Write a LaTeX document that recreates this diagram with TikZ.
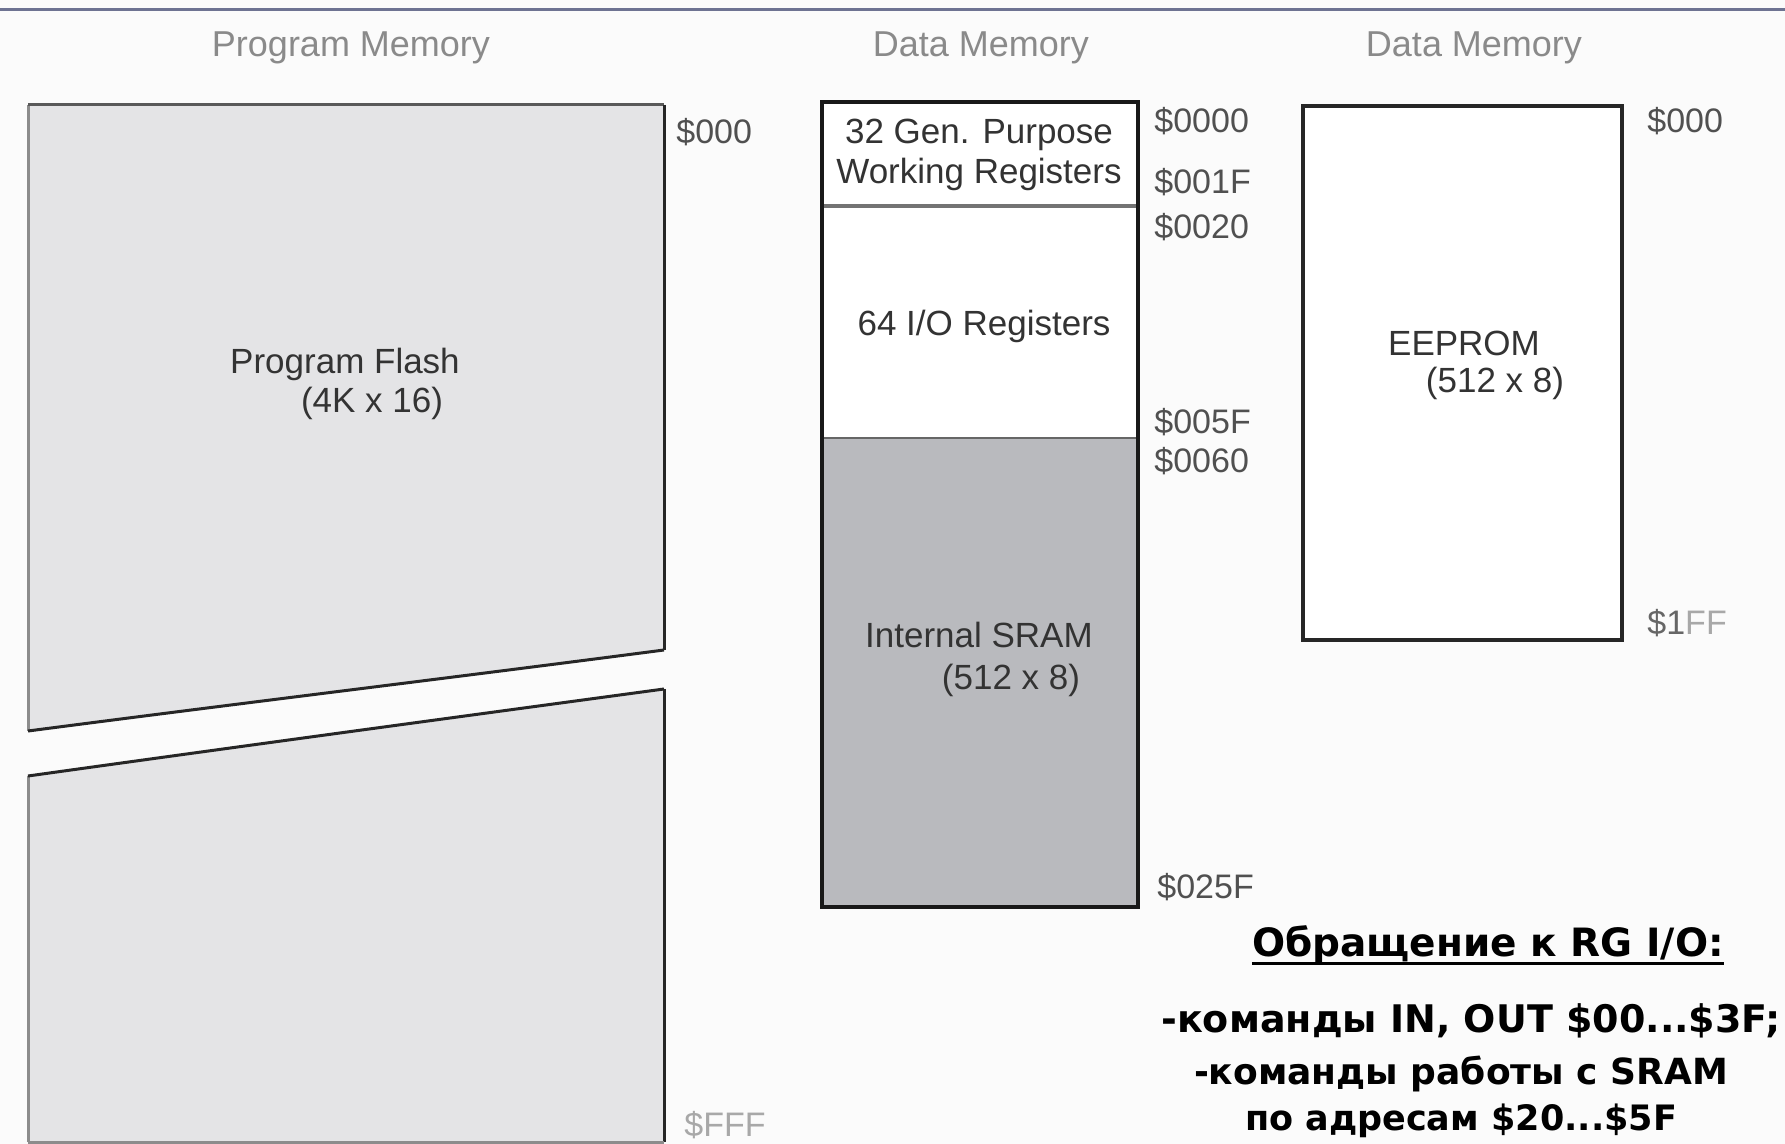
\documentclass[tikz,border=0pt]{standalone}
\usepackage{fontspec}
\setmainfont{Liberation Sans}
\newfontfamily\rufont{DejaVu Sans}
\usetikzlibrary{calc}
\definecolor{bgc}{HTML}{FBFBFB}
\definecolor{topc}{HTML}{6E7392}
\definecolor{pfill}{HTML}{E4E4E6}
\definecolor{pfilll}{HTML}{F3F3F4}
\definecolor{sramc}{HTML}{B9BABE}
\definecolor{titc}{HTML}{8A8A8A}
\definecolor{txtc}{HTML}{333333}
\definecolor{addrc}{HTML}{505050}
\definecolor{lightaddr}{HTML}{A8A8A8}
\pgfdeclarehorizontalshading{pfshade}{100bp}{color(0bp)=(pfilll); color(8bp)=(pfilll!50!pfill); color(20bp)=(pfill); color(100bp)=(pfill)}
\tikzset{
  titletext/.style={text=titc, font=\fontsize{18}{21}\selectfont, inner sep=0pt},
  boxtext/.style={text=txtc, font=\fontsize{17.5}{21}\selectfont, inner sep=0pt},
  addrtext/.style={text=addrc, font=\fontsize{17}{20}\selectfont, inner sep=0pt, anchor=west},
  rutext/.style={text=black, font=\rufont\bfseries\fontsize{18}{21}\selectfont, inner sep=0pt},
  edgedark/.style={draw=black!85, line width=1.5pt},
  edgegray/.style={draw=black!45, line width=1.5pt}
}
\begin{document}
\begin{tikzpicture}[x=0.5pt,y=-0.5pt]
\useasboundingbox (0,0) rectangle (1785,1144);
\clip (0,0) rectangle (1785,1144);
\fill[bgc] (0,0) rectangle (1785,1144);
\draw[topc, line width=1.5pt] (0,10) -- (1785,10);

% titles
\node[titletext] (t1) at (351,48) {Program Memory};
\node[titletext] (t2) at (981,48) {Data Memory};
\node[titletext] (t3) at (1474,48) {Data Memory};

% program flash upper part
\fill[shading=pfshade] (28,105) -- (664,105) -- (664,650) .. controls (450,678) and (250,702) .. (28,731) -- cycle;
\draw[edgegray] (28,731) -- (28,105);
\draw[draw=black!65, line width=1.5pt] (28,105) -- (664,105);
\draw[edgedark] (664,105) -- (664,650);
\draw[edgedark] (664,650) .. controls (450,678) and (250,702) .. (28,731);

% program flash lower part
\fill[shading=pfshade] (28,776) .. controls (250,745) and (450,718) .. (664,689) -- (664,1142) -- (28,1142) -- cycle;
\draw[edgegray] (28,1142) -- (28,776);
\draw[edgedark] (28,776) .. controls (250,745) and (450,718) .. (664,689);
\draw[edgedark] (664,689) -- (664,1142);
\draw[edgegray] (28,1142) -- (664,1142);

\node[boxtext] (pf1) at (345,364) {Program Flash};
\node[boxtext] (pf2) at (372,403) {(4K x 16)};
\node[addrtext] (pa0) at (676,132) {\$000};
\node[addrtext, text=lightaddr] (pa1) at (684,1125) {\$FFF};

% data memory (SRAM side)
\fill[white] (822,102) rectangle (1138,438);
\fill[sramc] (822,438) rectangle (1138,907);
\draw[black!55, line width=2pt] (822,206) -- (1138,206);
\draw[black!60, line width=1pt] (822,438) -- (1138,438);
\draw[draw=black!90, line width=1.6pt] (822,102) rectangle (1138,907);

\node[boxtext] (gp1) at (979,135) {32 Gen. Purpose};
\node[boxtext] (gp2) at (979,174) {Working Registers};
\node[boxtext] (io) at (984,326) {64 I/O Registers};
\node[boxtext] (sr1) at (979,635) {Internal SRAM};
\node[boxtext] (sr2) at (1011,680) {(512 x 8)};

\node[addrtext] (d0) at (1154,121) {\$0000};
\node[addrtext] (d1) at (1154,182) {\$001F};
\node[addrtext] (d2) at (1154,227) {\$0020};
\node[addrtext] (d3) at (1154,422) {\$005F};
\node[addrtext] (d4) at (1154,461) {\$0060};
\node[addrtext] (d5) at (1157,887) {\$025F};

% EEPROM
\fill[white] (1303,106) rectangle (1622,640);
\draw[draw=black!85, line width=1.6pt] (1303,106) rectangle (1622,640);
\node[boxtext] (ee1) at (1464,343) {EEPROM};
\node[boxtext] (ee2) at (1495,383) {(512 x 8)};
\node[addrtext] (e0) at (1647,121) {\$000};
\node[addrtext] (e1) at (1647,623) {\textcolor{black!60}{\$1}\textcolor{lightaddr}{FF}};

% Russian notes
\node[rutext, font=\rufont\bfseries\fontsize{19.5}{23}\selectfont] (hdr) at (1488,945) {Обращение к RG I/O:};
\draw[black, line width=1.4pt] ([yshift=-3.5pt]hdr.base west) -- ([yshift=-3.5pt]hdr.base east);
\node[rutext, anchor=west, font=\rufont\bfseries\fontsize{19}{22}\selectfont] (r1) at (1161,1021) {-команды IN, OUT \$00...\$3F;};
\node[rutext] (r2) at (1461,1074) {-команды работы с SRAM};
\node[rutext, font=\rufont\bfseries\fontsize{17.5}{21}\selectfont] (r3) at (1461,1121) {по адресам \$20...\$5F};
\end{tikzpicture}
\end{document}
